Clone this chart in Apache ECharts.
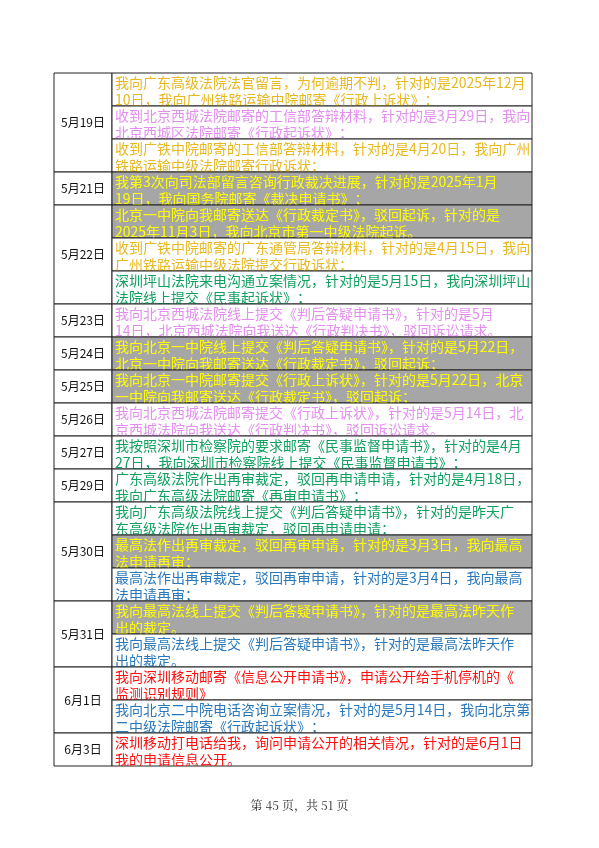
<!DOCTYPE html>
<html>
<head>
<meta charset="utf-8">
<script src="https://cdn.jsdelivr.net/npm/echarts@6/dist/echarts.min.js"></script>
<style>
  html, body { margin: 0; padding: 0; background: #fff; }
  #main { width: 599px; height: 848px; }
</style>
</head>
<body>
<div id="main"></div>
<script>
// Date groups: label, row count
const dateLabels = ["5月19日", "5月21日", "5月22日", "5月23日", "5月24日", "5月25日", "5月26日",
  "5月27日", "5月29日", "5月30日", "5月31日", "6月1日", "6月3日"];
const dateSpans = [3, 1, 3, 1, 1, 1, 1, 1, 1, 3, 2, 2, 1];

// Entry rows: text and style key
const entryTexts = [
  "我向广东高级法院法官留言，为何逾期不判，针对的是2025年12月\n10日，我向广州铁路运输中院邮寄《行政上诉状》；",
  "收到北京西城法院邮寄的工信部答辩材料，针对的是3月29日，我向\n北京西城区法院邮寄《行政起诉状》；",
  "收到广铁中院邮寄的工信部答辩材料，针对的是4月20日，我向广州\n铁路运输中级法院邮寄行政诉状；",
  "我第3次向司法部留言咨询行政裁决进展，针对的是2025年1月\n19日，我向国务院邮寄《裁决申请书》；",
  "北京一中院向我邮寄送达《行政裁定书》，驳回起诉，针对的是\n2025年11月3日，我向北京市第一中级法院起诉。",
  "收到广铁中院邮寄的广东通管局答辩材料，针对的是4月15日，我向\n广州铁路运输中级法院提交行政诉状；",
  "深圳坪山法院来电沟通立案情况，针对的是5月15日，我向深圳坪山\n法院线上提交《民事起诉状》；",
  "我向北京西城法院线上提交《判后答疑申请书》，针对的是5月\n14日，北京西城法院向我送达《行政判决书》，驳回诉讼请求。",
  "我向北京一中院线上提交《判后答疑申请书》，针对的是5月22日，\n北京一中院向我邮寄送达《行政裁定书》，驳回起诉；",
  "我向北京一中院邮寄提交《行政上诉状》，针对的是5月22日，北京\n一中院向我邮寄送达《行政裁定书》，驳回起诉；",
  "我向北京西城法院邮寄提交《行政上诉状》，针对的是5月14日，北\n京西城法院向我送达《行政判决书》，驳回诉讼请求。",
  "我按照深圳市检察院的要求邮寄《民事监督申请书》，针对的是4月\n27日，我向深圳市检察院线上提交《民事监督申请书》；",
  "广东高级法院作出再审裁定，驳回再申请申请，针对的是4月18日，\n我向广东高级法院邮寄《再审申请书》；",
  "我向广东高级法院线上提交《判后答疑申请书》，针对的是昨天广\n东高级法院作出再审裁定，驳回再申请申请；",
  "最高法作出再审裁定，驳回再审申请，针对的是3月3日，我向最高\n法申请再审；",
  "最高法作出再审裁定，驳回再审申请，针对的是3月4日，我向最高\n法申请再审；",
  "我向最高法线上提交《判后答疑申请书》，针对的是最高法昨天作\n出的裁定。",
  "我向最高法线上提交《判后答疑申请书》，针对的是最高法昨天作\n出的裁定。",
  "我向深圳移动邮寄《信息公开申请书》，申请公开给手机停机的《\n监测识别规则》",
  "我向北京二中院电话咨询立案情况，针对的是5月14日，我向北京第\n二中级法院邮寄《行政起诉状》；",
  "深圳移动打电话给我，询问申请公开的相关情况，针对的是6月1日\n我的申请信息公开。"
];
const entryStyles = ["gold", "violet", "gold", "gray", "gray", "gold", "green", "violet", "gray", "gray",
  "violet", "green", "green", "green", "gray", "blue", "gray", "blue", "red", "blue", "red"];

const STYLES = {
  gold:   { fill: "#ffffff", text: "#e8b820" },
  violet: { fill: "#ffffff", text: "#e48ef0" },
  gray:   { fill: "#a6a6a6", text: "#ffff00" },
  green:  { fill: "#ffffff", text: "#10a060" },
  blue:   { fill: "#ffffff", text: "#2a78bc" },
  red:    { fill: "#ffffff", text: "#ff1010" }
};

const ROWS = entryTexts.length;

// date cells built from spans
let start = 0;
const dateData = dateLabels.map((label, i) => {
  const d = [start, start + dateSpans[i], label];
  start += dateSpans[i];
  return d;
});
const entryData = entryTexts.map((t, i) => [i, i + 1, t, entryStyles[i]]);

const chart = echarts.init(document.getElementById("main"));

chart.setOption({
  animation: false,
  title: {
    text: "第 45 页，共 51 页",
    left: "center",
    top: 794,
    textStyle: { fontSize: 12, fontWeight: "normal", color: "#333", fontFamily: "Noto Serif CJK SC, serif" }
  },
  grid: { left: 54, right: 67, top: 73, height: 693 },
  xAxis: { type: "value", min: 0, max: 1, show: false },
  yAxis: { type: "value", min: 0, max: ROWS, inverse: true, show: false },
  series: [
    {
      type: "custom",
      data: dateData,
      encode: { y: [0, 1] },
      renderItem: (params, api) => {
        const p0 = api.coord([0, api.value(0)]);
        const p1 = api.coord([0, api.value(1)]);
        const x = p0[0], w = 58;
        return {
          type: "group",
          children: [
            { type: "rect", shape: { x: x, y: p0[1], width: w, height: p1[1] - p0[1] },
              style: { fill: "#fff", stroke: "#222", lineWidth: 1 } },
            { type: "text", style: { text: dateLabels[params.dataIndex], x: x + w / 2, y: (p0[1] + p1[1]) / 2,
              align: "center", verticalAlign: "middle", fill: "#111", fontSize: 12,
              fontFamily: "Noto Sans CJK SC" } }
          ]
        };
      }
    },
    {
      type: "custom",
      data: entryData,
      encode: { y: [0, 1] },
      renderItem: (params, api) => {
        const p0 = api.coord([0, api.value(0)]);
        const p1 = api.coord([1, api.value(1)]);
        const x = p0[0] + 58, w = p1[0] - x, h = p1[1] - p0[1];
        const st = STYLES[entryStyles[params.dataIndex]];
        return {
          type: "group",
          children: [
            { type: "rect", shape: { x: x, y: p0[1], width: w, height: h },
              style: { fill: st.fill, stroke: "#222", lineWidth: 1 } },
            { type: "text", clipPath: { type: "rect", shape: { x: x, y: p0[1], width: w, height: h } },
              style: { text: entryTexts[params.dataIndex], x: x + 3, y: p0[1] + 1,
                align: "left", verticalAlign: "top", fill: st.text, fontSize: 14, lineHeight: 17,
                fontFamily: "Noto Sans CJK SC" } }
          ]
        };
      }
    }
  ]
});
</script>
</body>
</html>
